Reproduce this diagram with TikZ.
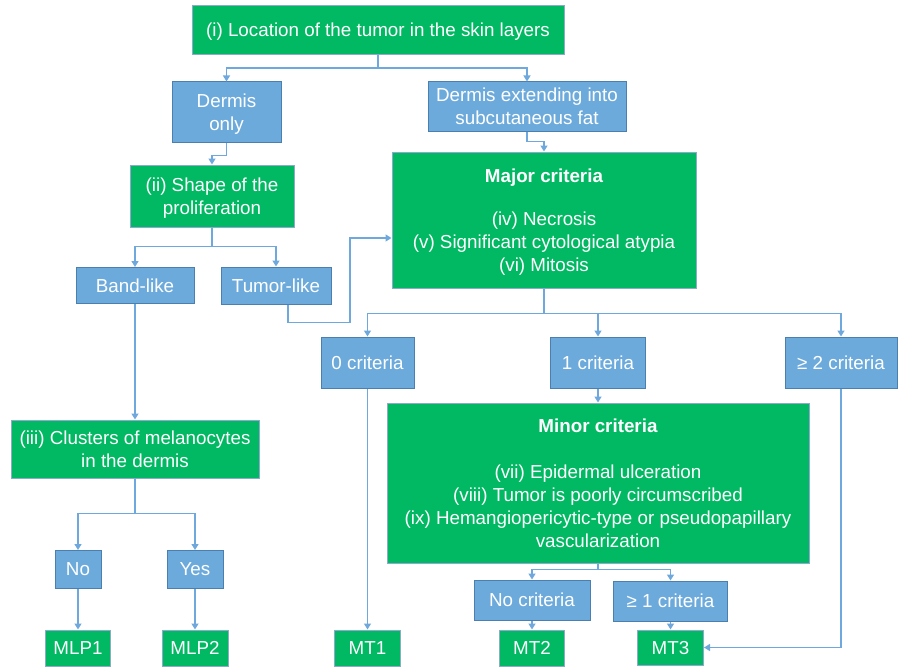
\documentclass[tikz,border=0pt]{standalone}
\usepackage{fontspec}
\setmainfont{Liberation Sans}
\usetikzlibrary{arrows.meta,positioning}

\definecolor{boxgreen}{HTML}{00B962}
\definecolor{greenline}{HTML}{8EA9CF}
\definecolor{boxblue}{HTML}{6DAADC}
\definecolor{blueline}{HTML}{4A7FB0}
\definecolor{linkblue}{HTML}{6FA8DC}

\begin{document}
\begin{tikzpicture}[x=1pt, y=-1pt, font=\fontsize{18.8}{23}\selectfont]
    \useasboundingbox (0,0) rectangle (901,666);
    % Define styles
    \tikzstyle{greenbox} = [rectangle, draw=greenline, fill=boxgreen, text=white, line width=1pt, inner sep=0pt, text depth=0pt, align=center]
    \tikzstyle{bluebox} = [rectangle, draw=blueline, fill=boxblue, text=white, line width=1pt, inner sep=0pt, text depth=0pt, align=center]
    \tikzstyle{link} = [draw=linkblue, line width=1.4pt, -{Triangle[width=7pt,length=6pt]}]

    % Nodes
    \node[greenbox, minimum width=372pt, minimum height=49pt] (location) at (378,30) {(i) Location of the tumor in the skin layers};
    \node[bluebox, minimum width=109pt, minimum height=60pt] (dermis_only) at (226.5,112) {Dermis\\only};
    \node[bluebox, minimum width=198pt, minimum height=49pt] (dermis_fat) at (527,106.5) {Dermis extending into\\subcutaneous fat};
    \node[greenbox, minimum width=164pt, minimum height=62pt] (shape) at (212,196) {(ii) Shape of the\\proliferation};
    \node[greenbox, minimum width=304pt, minimum height=136pt] (major) at (544,220) {\textbf{Major criteria}\\[20pt](iv) Necrosis\\(v) Significant cytological atypia\\(vi) Mitosis};
    \node[bluebox, minimum width=118pt, minimum height=36pt] (band) at (135,285.5) {Band-like};
    \node[bluebox, minimum width=110pt, minimum height=37pt] (tumor) at (276,285.5) {Tumor-like};
    \node[greenbox, minimum width=248pt, minimum height=58pt] (clusters) at (135,449) {(iii) Clusters of melanocytes\\in the dermis};
    \node[bluebox, minimum width=46pt, minimum height=38pt] (no) at (78,569.5) {No};
    \node[bluebox, minimum width=56pt, minimum height=38pt] (yes) at (195,569.5) {Yes};
    \node[greenbox, minimum width=65pt, minimum height=36pt] (mlp1) at (78,648) {MLP1};
    \node[greenbox, minimum width=66pt, minimum height=36pt] (mlp2) at (195,648) {MLP2};
    \node[bluebox, minimum width=93pt, minimum height=51pt] (crit0) at (367.5,362.5) {0 criteria};
    \node[bluebox, minimum width=95pt, minimum height=51pt] (crit1) at (598,362.5) {1 criteria};
    \node[bluebox, minimum width=112pt, minimum height=51pt] (crit2) at (841,362.5) {≥ 2 criteria};
    \node[greenbox, minimum width=422pt, minimum height=160pt] (minor) at (598,483) {\textbf{Minor criteria}\\[23pt](vii) Epidermal ulceration\\(viii) Tumor is poorly circumscribed\\(ix) Hemangiopericytic-type or pseudopapillary\\vascularization};
    \node[bluebox, minimum width=116pt, minimum height=40pt] (nocrit) at (532,600) {No criteria};
    \node[bluebox, minimum width=114pt, minimum height=40pt] (crit1plus) at (670.5,601) {≥ 1 criteria};
    \node[greenbox, minimum width=66pt, minimum height=36pt] (mt1) at (367.5,648) {MT1};
    \node[greenbox, minimum width=65pt, minimum height=36pt] (mt2) at (532,648) {MT2};
    \node[greenbox, minimum width=66pt, minimum height=35pt] (mt3) at (670.5,647.5) {MT3};

    % Connections
    \draw[link] (location.south) -- ++(0,13) -| (dermis_only.north);
    \draw[link] (location.south) -- ++(0,13) -| (dermis_fat.north);
    \draw[link] (dermis_only.south) -- ++(0,13) -| (shape.north);
    \draw[link] (dermis_fat.south) -- ++(0,10) -| (major.north);
    \draw[link] (shape.south) -- ++(0,19) -| (band.north);
    \draw[link] (shape.south) -- ++(0,19) -| (tumor.north);
    \draw[link] ([xshift=12pt]tumor.south) -- ++(0,18) -- ++(62,0) |- ([yshift=-18pt]major.west);
    \draw[link] (band.south) -- (clusters.north);
    \draw[link] (clusters.south) -- ++(0,35) -| (no.north);
    \draw[link] (clusters.south) -- ++(0,35) -| (yes.north);
    \draw[link] (no) -- (mlp1);
    \draw[link] (yes) -- (mlp2);
    \draw[link] (major.south) -- ++(0,25) -| (crit0.north);
    \draw[link] (major.south) -- ++(0,25) -| (crit1.north);
    \draw[link] (major.south) -- ++(0,25) -| (crit2.north);
    \draw[link] (crit0) -- (mt1);
    \draw[link] (crit1) -- (minor);
    \draw[link] (crit2.south) |- (mt3.east);
    \draw[link] (minor.south) -- ++(0,6) -| (nocrit.north);
    \draw[link] (minor.south) -- ++(0,6) -| (crit1plus.north);
    \draw[link] (nocrit) -- (mt2);
    \draw[link] (crit1plus) -- (mt3);
\end{tikzpicture}
\end{document}
